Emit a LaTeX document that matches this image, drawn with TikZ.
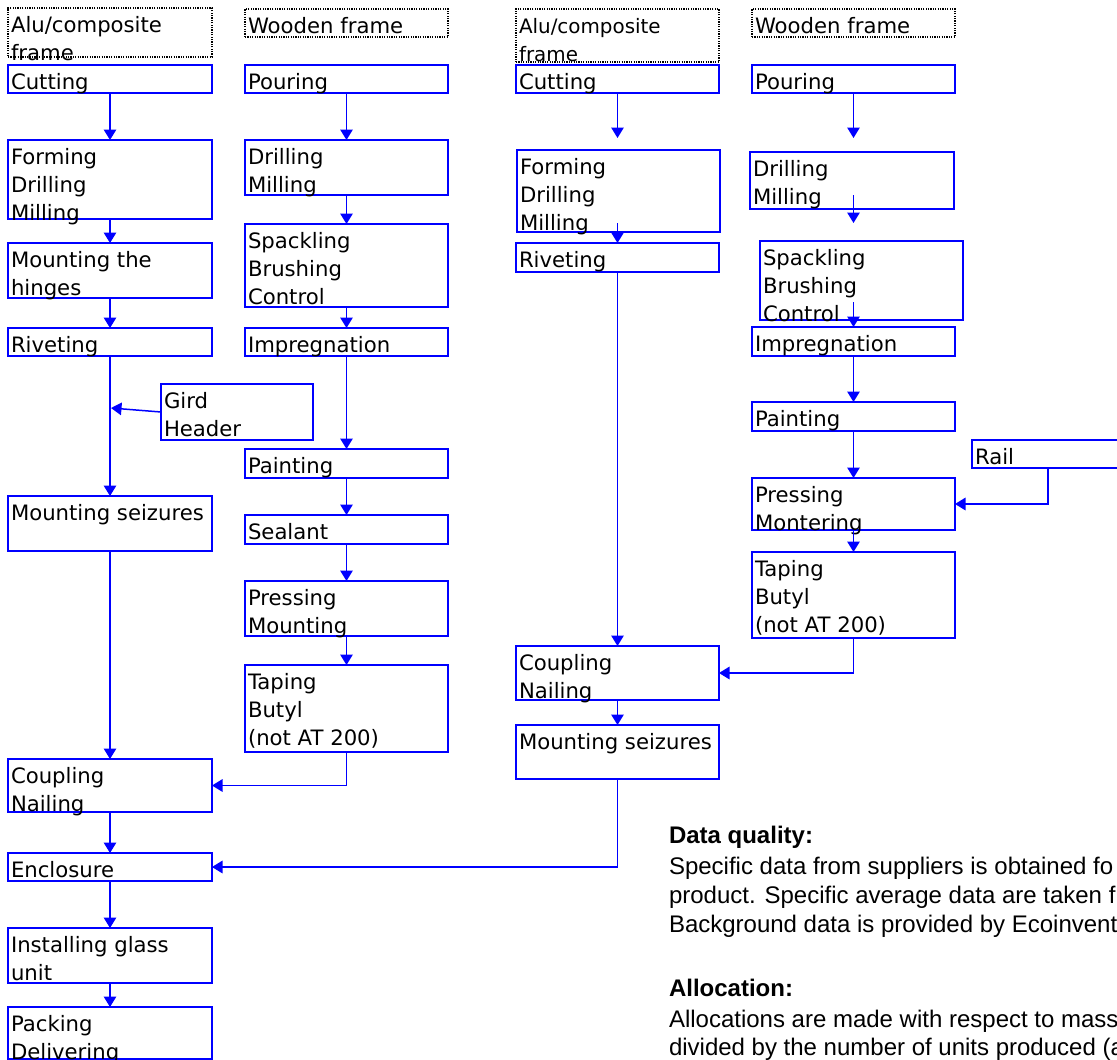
\documentclass[tikz,border=0pt]{standalone}
\usepackage{fontspec}
\setmainfont{DejaVu Sans}
\newfontfamily\arialf{Liberation Sans}
\usetikzlibrary{arrows.meta}
\definecolor{pblue}{RGB}{0,0,255}
\tikzset{
  pbox/.style={draw=pblue,line width=1.9pt,rectangle,inner sep=0pt,outer sep=0pt,anchor=north west},
  dbox/.style={draw=black,dash pattern=on 1.2pt off 1.2pt,line width=1.2pt,rectangle,inner sep=0pt,outer sep=0pt,anchor=north west},
  ptxt/.style={anchor=north west,inner sep=0pt,outer sep=0pt,align=left,font=\fontsize{21.2}{27.8}\selectfont},
  stxt/.style={anchor=north west,inner sep=0pt,outer sep=0pt,align=left,font=\fontsize{19.9}{28}\selectfont},
  conn/.style={draw=pblue,line width=1.5pt},
  arr/.style={conn,-{Triangle[width=12.5pt,length=10.5pt]}},
  note/.style={anchor=base west,inner sep=0pt,outer sep=0pt,font=\arialf\fontsize{24}{29}\selectfont},
  noteb/.style={note,font=\arialf\bfseries\fontsize{24}{29}\selectfont}
}
% [box style]{name}{x1}{y1}{x2}{y2}{text}
\newcommand\bx[7][pbox]{%
  \node[#1,minimum width={(#5-#3)*1pt},minimum height={(#6-#4)*1pt}] (#2) at (#3,#4) {};
  \node[ptxt] (#2t) at ([xshift=3pt,yshift=-5.3pt]#2.north west) {\strut #7};
}
\begin{document}
\begin{tikzpicture}[x=1pt,y=-1pt]
\path[use as bounding box,clip] (0,0) rectangle (1117,1060);

% column 1
\bx[dbox]{alu1}{8}{8}{212}{57}{Alu/composite\\frame}
\bx{cut1}{8}{65}{212}{93}{Cutting}
\bx{form1}{8}{140}{212}{219}{Forming\\Drilling\\Milling}
\bx{hinge1}{8}{243}{212}{298}{Mounting the\\hinges}
\bx{riv1}{8}{328}{212}{356}{Riveting}
\bx{gird}{161}{384}{313}{440}{Gird\\Header}
\bx{ms1}{8}{496}{212}{551}{Mounting seizures}
\bx{coup1}{8}{759}{212}{812}{Coupling\\Nailing}
\bx{encl}{8}{853}{212}{881}{Enclosure}
\bx{glass}{8}{928}{212}{983}{Installing glass\\unit}
\bx{pack}{8}{1007}{212}{1059}{Packing\\Delivering}

% column 2
\bx[dbox]{wood2}{245}{9}{448}{37}{Wooden frame}
\bx{pour2}{245}{65}{448}{93}{Pouring}
\bx{drill2}{245}{140}{448}{195}{Drilling\\Milling}
\bx{spack2}{245}{224}{448}{307}{Spackling\\Brushing\\Control}
\bx{impr2}{245}{328}{448}{356}{Impregnation}
\bx{paint2}{245}{449}{448}{478}{Painting}
\bx{seal2}{245}{515}{448}{544}{Sealant}
\bx{press2}{245}{581}{448}{636}{Pressing\\Mounting}
\bx{tape2}{245}{665}{448}{752}{Taping\\Butyl\\(not AT 200)}

% column 3
\node[dbox,minimum width=203pt,minimum height=53pt] (alu3) at (516,9) {};
\node[stxt] (alu3t) at ([xshift=3pt,yshift=-5.3pt]alu3.north west) {\strut Alu/composite\\frame};
\bx{cut3}{516}{65}{719}{93}{Cutting}
\bx{form3}{517}{150}{720}{232}{Forming\\Drilling\\Milling}
\bx{riv3}{516}{243}{719}{272}{Riveting}
\bx{coup3}{516}{646}{719}{700}{Coupling\\Nailing}
\bx{ms3}{516}{725}{719}{779}{Mounting seizures}

% column 4
\bx[dbox]{wood4}{752}{9}{955}{37}{Wooden frame}
\bx{pour4}{752}{65}{955}{93}{Pouring}
\bx{drill4}{750}{152}{954}{209}{Drilling\\Milling}
\bx{spack4}{760}{241}{963}{320}{Spackling\\Brushing\\Control}
\bx{impr4}{752}{327}{955}{356}{Impregnation}
\bx{paint4}{752}{402}{955}{431}{Painting}
\bx{press4}{752}{478}{955}{530}{Pressing\\Montering}
\bx{tape4}{752}{552}{955}{638}{Taping\\Butyl\\(not AT 200)}
\bx{rail}{972}{440}{1140}{468}{Rail}

% connectors column 1
\draw[arr] (cut1.south) -- (form1.north);
\draw[arr] (form1.south) -- (hinge1.north);
\draw[arr] (hinge1.south) -- (riv1.north);
\draw[arr] (riv1.south) -- (ms1.north);
\coordinate (gj) at (111,408);
\draw[arr] (gird.west) -- (gj);
\draw[arr] (ms1.south) -- (coup1.north);
\draw[arr] (coup1.south) -- (encl.north);
\draw[arr] (encl.south) -- (glass.north);
\draw[arr] (glass.south) -- (pack.north);

% connectors column 2
\draw[arr] (pour2.south) -- (drill2.north);
\draw[arr] (drill2.south) -- (spack2.north);
\draw[arr] (spack2.south) -- (impr2.north);
\draw[arr] (impr2.south) -- (paint2.north);
\draw[arr] (paint2.south) -- (seal2.north);
\draw[arr] (seal2.south) -- (press2.north);
\draw[arr] (press2.south) -- (tape2.north);
\draw[arr] (tape2.south) |- (coup1.east);

% connectors column 3
\coordinate (c3e) at (617.5,138);
\draw[arr] (cut3.south) -- (c3e);
\coordinate (f3s) at (617.5,223);
\draw[arr] (f3s) -- (riv3.north);
\draw[arr] (riv3.south) -- (coup3.north);
\draw[arr] (coup3.south) -- (ms3.north);
\draw[arr] (ms3.south) |- (encl.east);

% connectors column 4
\coordinate (p4e) at (853.5,138);
\draw[arr] (pour4.south) -- (p4e);
\coordinate (d4s) at (853.5,195);
\coordinate (d4e) at (853.5,223);
\draw[arr] (d4s) -- (d4e);
\coordinate (s4s) at (853.5,302);
\draw[arr] (s4s) -- (impr4.north);
\draw[arr] (impr4.south) -- (paint4.north);
\draw[arr] (paint4.south) -- (press4.north);
\draw[arr] (press4.south) -- (tape4.north);
\draw[arr] (tape4.south) |- (coup3.east);
\coordinate (rs) at (1048,468);
\draw[arr] (rs) |- (press4.east);

% notes
\node[noteb] (dq) at (669,843) {Data quality:};
\node[note] (dq1) at (669,874) {Specific data from suppliers is obtained fo};
\node[note] (dq2) at (669,903) {product. Specific average data are taken f};
\node[note] (dq3) at (669,932) {Background data is provided by Ecoinvent};
\node[noteb] (al) at (669,996) {Allocation:};
\node[note] (al1) at (669,1027) {Allocations are made with respect to mass};
\node[note] (al2) at (669,1055) {divided by the number of units produced (a};
\end{tikzpicture}
\end{document}
